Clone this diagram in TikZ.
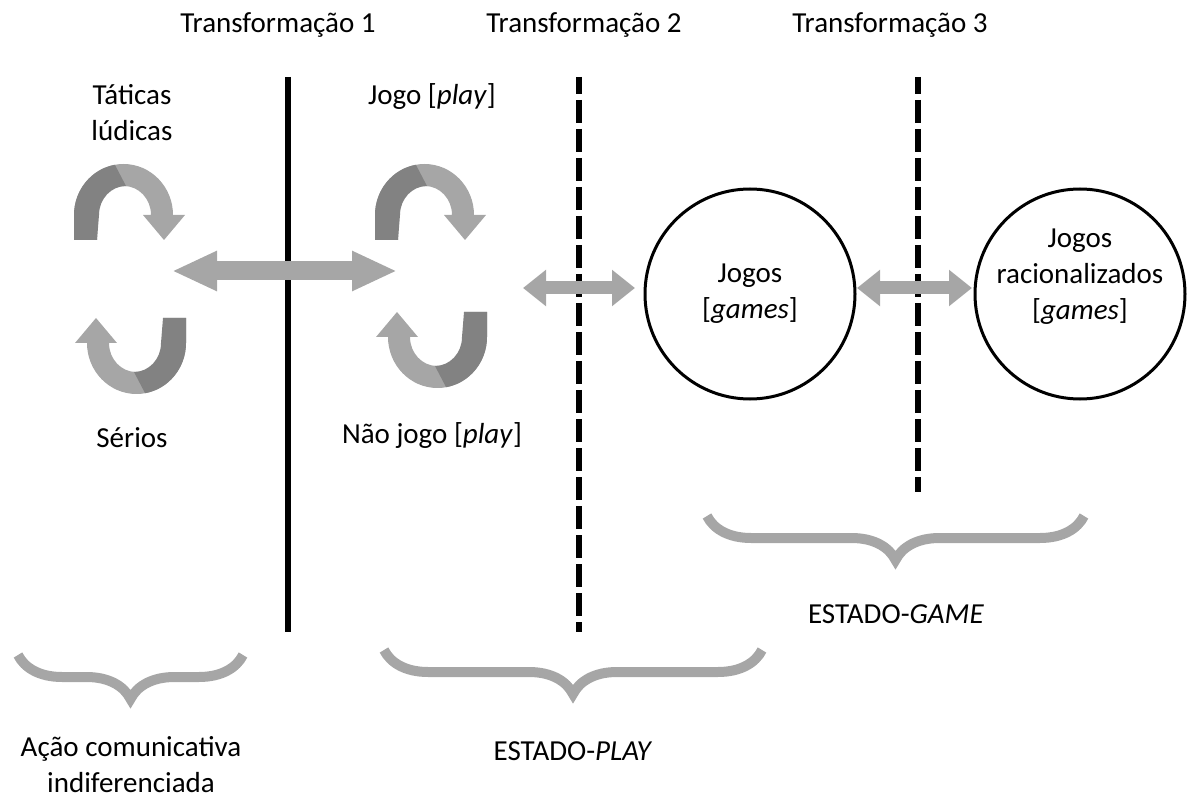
\documentclass[tikz,border=0pt]{standalone}
\usepackage{fontspec}
\setmainfont{Carlito}
\usetikzlibrary{arrows.meta, positioning, decorations.pathreplacing}
\definecolor{arrowgray}{RGB}{166,166,166}
\definecolor{turngray}{RGB}{130,130,130}
\tikzset{lbl/.style={font=\fontsize{29}{36}\selectfont, align=center, inner sep=0pt}}
\tikzset{stage/.style={circle, draw=black, line width=3pt, minimum size=210pt, inner sep=0pt, font=\fontsize{29}{36}\selectfont, align=center}}
\tikzset{sepline/.style={line width=5.5pt}}
\tikzset{sepdash/.style={line width=5.5pt, dash pattern=on 23pt off 6pt, dash phase=6pt}}
\tikzset{dblarrow/.style={draw=arrowgray, line width=#1}}
\tikzset{groupbrace/.style={draw=arrowgray, line width=10pt, decorate, decoration={brace, mirror, amplitude=44pt}}}
% curved ribbon arrow, drawn with its legs on y=0
\newcommand{\turnarrow}[1]{%
\begin{scope}[#1]
\fill[arrowgray] (-56,0) -- (-56,25) arc[start angle=180, end angle=0, x radius=49.5, y radius=51] -- (55,25) -- (34,0) -- (13,25) -- (21,25) arc[start angle=0, end angle=180, x radius=27, y radius=29] -- (-33,0) -- cycle;
\fill[turngray] (-56,0) -- (-56,25) arc[start angle=180, end angle=100, x radius=49.5, y radius=51] -- (-4,54) arc[start angle=90, end angle=180, x radius=27, y radius=29] -- (-33,0) -- cycle;
\end{scope}}

\begin{document}
\begin{tikzpicture}[x=1pt, y=-1pt]
\useasboundingbox (0,0) rectangle (1192,802);

\node[lbl, anchor=base] (trans1) at (278,33) {Transformação 1};
\node[lbl, anchor=base] (trans2) at (584,33) {Transformação 2};
\node[lbl, anchor=base] (trans3) at (890,33) {Transformação 3};

\draw[sepline] (288,77) -- (288,632);
\draw[sepdash] (579,77) -- (579,632);
\draw[sepdash] (918,77) -- (918,492);

% acao indiferenciada
\node[lbl] (taticas) at (132,113) {Táticas\\lúdicas};
\node[lbl, anchor=base] (serios) at (132,447) {Sérios};
\turnarrow{shift={(130,240)}, yscale=-1}
\turnarrow{shift={(130,318)}, xscale=-1}

% play
\node[lbl, anchor=base] (jogo) at (432,105) {Jogo [\textit{play}]};
\node[lbl, anchor=base] (naojogo) at (432,443) {Não jogo [\textit{play}]};
\turnarrow{shift={(431,240)}, yscale=-1}
\turnarrow{shift={(431,312)}, xscale=-1}

% game
\node[stage] (jogos) at (750,294) {Jogos\\{[}\textit{games}{]}};
\node[stage] (racional) at (1080,294) {};
\node[lbl] (racionaltxt) at (1080,277) {Jogos\\racionalizados\\{[}\textit{games}{]}};

\coordinate (leftgrp) at (172,271);
\coordinate (midgrp) at (397,271);
\coordinate (playout) at (523,288);
\coordinate (gamein) at (635,288);
\coordinate (gameout) at (857,288);
\coordinate (ratin) at (972,288);
\draw[dblarrow=19pt, {Triangle[length=45pt, width=37pt]}-{Triangle[length=45pt, width=37pt]}] (leftgrp) -- (midgrp);
\draw[dblarrow=13pt, {Triangle[length=23pt, width=35pt]}-{Triangle[length=23pt, width=35pt]}] (playout) -- (gamein);
\draw[dblarrow=13pt, {Triangle[length=23pt, width=35pt]}-{Triangle[length=23pt, width=35pt]}] (gameout) -- (ratin);

% chaves
\draw[groupbrace] (18,655) -- (243,655);
\draw[groupbrace] (384,650) -- (762,650);
\draw[groupbrace] (707,516) -- (1084,516);
\node[lbl] (acao) at (131,765) {Ação comunicativa\\indiferenciada};
\node[lbl, anchor=base] (estplay) at (573,760) {ESTADO-\textit{PLAY}};
\node[lbl, anchor=base] (estgame) at (896,623) {ESTADO-\textit{GAME}};
\end{tikzpicture}
\end{document}
